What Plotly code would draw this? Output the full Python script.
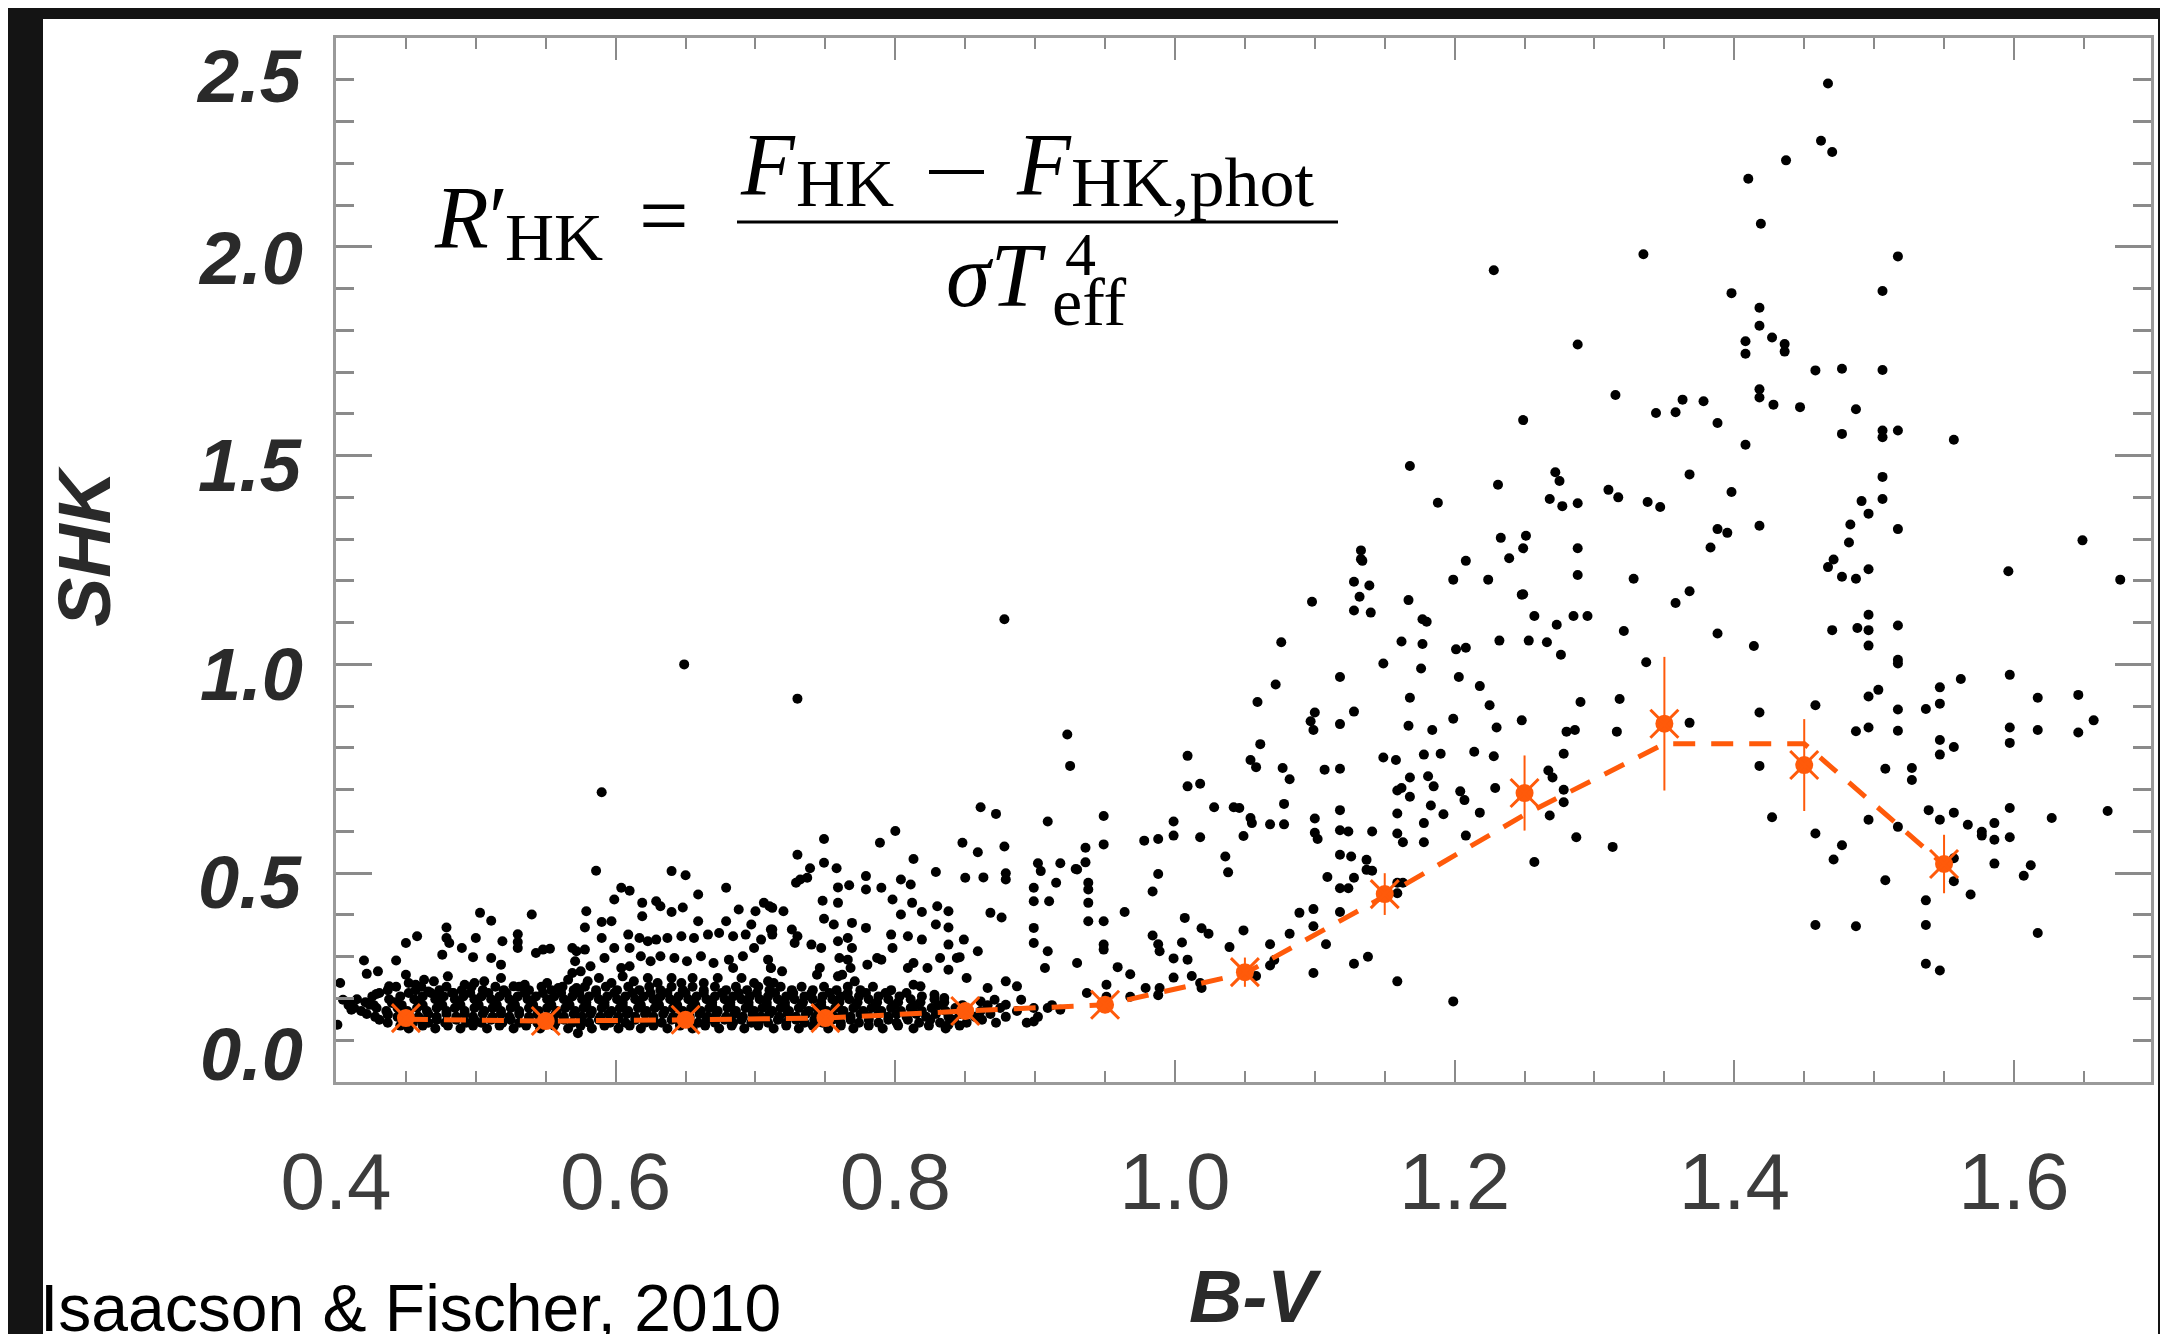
import plotly.graph_objects as go

W, H = 2168, 1334
L, R, T, B = 328, 25, 30, 260

# binned means (orange stars) with error bars, and the dashed trend through the bins
BIN_BV = [0.45, 0.55, 0.65, 0.75, 0.85, 0.95, 1.05, 1.15, 1.25, 1.35, 1.45, 1.55]
BIN_SHK = [0.153, 0.146, 0.149, 0.153, 0.170, 0.185, 0.263, 0.450, 0.692, 0.858, 0.759, 0.522]
BIN_ERR = [0.015, 0.015, 0.015, 0.015, 0.02, 0.02, 0.035, 0.05, 0.09, 0.16, 0.11, 0.07]
TREND_SHK = [0.150, 0.146, 0.149, 0.153, 0.170, 0.185, 0.260, 0.445, 0.640, 0.810, 0.810, 0.520]

# stars, read region by region (B-V, S_HK)
UPPER_RIGHT = [
    (1.467, 2.391), (1.462, 2.254), (1.470, 2.227), (1.437, 2.207), (1.410, 2.163), (1.419, 2.055),
    (1.335, 1.982), (1.517, 1.977), (1.398, 1.889), (1.506, 1.894), (1.418, 1.854), (1.418, 1.811),
    (1.408, 1.774), (1.408, 1.744), (1.427, 1.783), (1.436, 1.767), (1.436, 1.749), (1.288, 1.766),
    (1.458, 1.704), (1.477, 1.708), (1.506, 1.705), (1.315, 1.645), (1.363, 1.634), (1.378, 1.630),
    (1.344, 1.602), (1.358, 1.604), (1.388, 1.578), (1.418, 1.659), (1.418, 1.639), (1.428, 1.622),
    (1.447, 1.616), (1.487, 1.611), (1.249, 1.585), (1.408, 1.526), (1.477, 1.552), (1.506, 1.560),
    (1.506, 1.544), (1.517, 1.560), (1.557, 1.538), (1.272, 1.460), (1.275, 1.439), (1.368, 1.455),
    (1.310, 1.418), (1.317, 1.400), (1.268, 1.396), (1.277, 1.379), (1.288, 1.386), (1.338, 1.389),
    (1.347, 1.377), (1.398, 1.413), (1.506, 1.449), (1.506, 1.396), (1.491, 1.391), (1.496, 1.361),
    (1.251, 1.308), (1.249, 1.278), (1.239, 1.254), (1.288, 1.278), (1.288, 1.214), (1.328, 1.205),
    (1.383, 1.280), (1.388, 1.324), (1.395, 1.315), (1.418, 1.332), (1.483, 1.335), (1.482, 1.292),
    (1.517, 1.324), (1.471, 1.251), (1.467, 1.233), (1.477, 1.210), (1.487, 1.205), (1.496, 1.228),
    (1.649, 1.297), (1.596, 1.223), (1.676, 1.203), (1.249, 1.168), (1.358, 1.147), (1.368, 1.175),
    (1.228, 1.944), (1.168, 1.475), (1.188, 1.387), (1.231, 1.430), (1.133, 1.273), (1.133, 1.252),
    (1.233, 1.303),
]

MID_RIGHT = [
    (1.134, 1.248), (1.208, 1.248), (1.128, 1.198), (1.139, 1.189), (1.199, 1.203), (1.224, 1.203),
    (1.098, 1.150), (1.132, 1.162), (1.128, 1.129), (1.140, 1.124), (1.167, 1.154), (1.177, 1.108),
    (1.180, 1.102), (1.257, 1.116), (1.273, 1.095), (1.285, 1.116), (1.295, 1.116), (1.321, 1.080),
    (1.388, 1.074), (1.414, 1.044), (1.470, 1.082), (1.488, 1.087), (1.496, 1.119), (1.496, 1.082),
    (1.517, 1.093), (1.496, 1.045), (1.517, 1.011), (1.517, 1.002), (1.076, 1.053), (1.162, 1.055),
    (1.177, 1.049), (1.201, 1.036), (1.208, 1.040), (1.232, 1.057), (1.253, 1.057), (1.266, 1.053),
    (1.276, 1.023), (1.149, 1.002), (1.176, 0.990), (1.337, 1.005), (1.597, 0.975), (1.562, 0.965),
    (1.072, 0.952), (1.118, 0.970), (1.203, 0.970), (1.218, 0.948), (1.248, 1.167), (1.059, 0.910),
    (1.168, 0.920), (1.225, 0.902), (1.290, 0.910), (1.318, 0.917), (1.458, 0.902), (1.496, 0.923),
    (1.503, 0.939), (1.517, 0.892), (1.537, 0.893), (1.547, 0.945), (1.547, 0.906), (1.617, 0.920),
    (1.646, 0.927), (1.097, 0.864), (1.100, 0.885), (1.099, 0.843), (1.118, 0.857), (1.128, 0.887),
    (1.167, 0.853), (1.184, 0.843), (1.199, 0.870), (1.230, 0.849), (1.248, 0.866), (1.280, 0.839),
    (1.286, 0.843), (1.316, 0.839), (1.368, 0.860), (1.418, 0.885), (1.487, 0.840), (1.496, 0.849),
    (1.517, 0.841), (1.597, 0.849), (1.597, 0.812), (1.617, 0.843), (1.646, 0.837), (1.657, 0.866),
    (1.547, 0.819), (1.557, 0.802), (1.547, 0.784), (1.061, 0.809), (1.009, 0.781), (1.054, 0.771),
    (1.058, 0.754), (1.077, 0.752), (1.082, 0.725), (1.107, 0.748), (1.118, 0.750), (1.149, 0.777),
    (1.158, 0.771), (1.178, 0.784), (1.190, 0.786), (1.214, 0.791), (1.228, 0.780), (1.278, 0.786),
    (1.418, 0.757), (1.508, 0.750), (1.527, 0.752), (1.527, 0.723), (1.009, 0.708), (1.018, 0.714),
    (1.159, 0.698), (1.162, 0.704), (1.168, 0.729), (1.181, 0.732), (1.185, 0.708), (1.204, 0.696),
    (1.207, 0.675), (1.229, 0.704), (1.267, 0.746), (1.270, 0.729), (1.278, 0.700), (1.278, 0.670),
    (1.268, 0.638), (1.028, 0.658), (1.042, 0.658), (1.046, 0.656), (1.054, 0.632), (1.055, 0.620),
    (1.068, 0.617), (1.078, 0.617), (1.078, 0.666), (1.100, 0.631), (1.118, 0.651), (1.159, 0.643),
    (1.168, 0.683), (1.183, 0.662), (1.192, 0.641), (1.218, 0.645), (1.547, 0.628), (1.539, 0.651),
    (1.557, 0.645), (1.567, 0.616), (1.577, 0.599), (1.586, 0.620), (1.597, 0.656), (1.627, 0.632),
    (1.667, 0.649), (1.496, 0.628), (1.427, 0.634), (0.978, 0.578), (0.988, 0.582), (0.999, 0.624),
    (0.999, 0.590), (1.018, 0.586), (1.049, 0.589), (1.100, 0.597), (1.102, 0.582), (1.118, 0.603),
    (1.124, 0.600), (1.141, 0.600), (1.159, 0.595), (1.163, 0.574), (1.178, 0.620), (1.178, 0.574),
    (1.208, 0.590), (1.287, 0.586), (1.313, 0.563), (1.458, 0.595), (1.477, 0.567), (1.577, 0.590),
    (1.586, 0.580), (1.597, 0.586), (1.517, 0.611), (0.988, 0.498), (0.984, 0.456), (1.036, 0.540),
    (1.038, 0.502), (1.109, 0.491), (1.118, 0.544), (1.126, 0.540), (1.118, 0.464), (1.124, 0.464),
    (1.137, 0.532), (1.137, 0.508), (1.141, 0.506), (1.128, 0.489), (1.159, 0.477), (1.159, 0.452),
    (1.163, 0.477), (1.257, 0.527), (1.471, 0.533), (1.508, 0.483), (1.557, 0.536), (1.557, 0.481),
    (1.586, 0.523), (1.612, 0.519), (1.607, 0.494), (1.569, 0.449), (0.964, 0.407), (1.007, 0.393),
    (1.089, 0.405), (1.099, 0.414), (1.118, 0.407), (1.099, 0.373), (1.108, 0.330), (0.984, 0.351),
    (0.988, 0.330), (0.989, 0.313), (1.005, 0.334), (0.999, 0.296), (1.009, 0.293), (1.019, 0.368),
    (1.024, 0.355), (1.049, 0.363), (1.039, 0.323), (1.068, 0.330), (1.082, 0.355), (1.128, 0.283),
    (1.138, 0.300), (1.458, 0.376), (1.487, 0.373), (1.537, 0.435), (1.537, 0.376), (1.617, 0.357),
    (0.959, 0.275), (0.968, 0.258), (0.979, 0.225), (0.988, 0.208), (0.989, 0.225), (0.968, 0.204),
    (0.999, 0.250), (1.012, 0.254), (1.018, 0.237), (1.019, 0.225), (1.068, 0.279), (1.071, 0.292),
    (1.058, 0.254), (1.099, 0.261), (1.159, 0.241), (1.199, 0.193), (1.537, 0.283), (1.547, 0.267),
    (0.951, 0.233), (0.951, 0.204), (0.951, 0.178),
]

MID_LEFT = [
    (0.649, 1.000), (0.878, 1.108), (0.730, 0.918), (0.590, 0.694), (0.923, 0.832), (0.925, 0.757),
    (0.861, 0.658), (0.872, 0.642), (0.909, 0.624), (0.949, 0.637), (0.949, 0.569), (0.800, 0.601),
    (0.749, 0.582), (0.789, 0.573), (0.813, 0.534), (0.730, 0.544), (0.848, 0.573), (0.859, 0.550),
    (0.878, 0.564), (0.936, 0.561), (0.936, 0.526), (0.929, 0.510), (0.918, 0.524), (0.902, 0.524),
    (0.739, 0.512), (0.749, 0.525), (0.758, 0.512),
]

LOW_LEFT = [
    (0.586, 0.506), (0.640, 0.505), (0.650, 0.495), (0.604, 0.465), (0.610, 0.458), (0.599, 0.437),
    (0.659, 0.449), (0.679, 0.465), (0.503, 0.405), (0.511, 0.386), (0.540, 0.401), (0.579, 0.409),
    (0.578, 0.370), (0.590, 0.383), (0.597, 0.385), (0.619, 0.429), (0.629, 0.433), (0.632, 0.421),
    (0.640, 0.407), (0.648, 0.418), (0.619, 0.397), (0.659, 0.385), (0.679, 0.385), (0.688, 0.413),
    (0.700, 0.409), (0.706, 0.429), (0.710, 0.421), (0.711, 0.365), (0.697, 0.377), (0.458, 0.349),
    (0.450, 0.333), (0.479, 0.370), (0.479, 0.345), (0.481, 0.333), (0.500, 0.345), (0.519, 0.337),
    (0.530, 0.354), (0.530, 0.335), (0.530, 0.321), (0.490, 0.321), (0.476, 0.305), (0.498, 0.299),
    (0.511, 0.297), (0.443, 0.291), (0.420, 0.291), (0.422, 0.259), (0.430, 0.265), (0.543, 0.309),
    (0.548, 0.317), (0.553, 0.319), (0.569, 0.321), (0.572, 0.313), (0.578, 0.317), (0.590, 0.345),
    (0.571, 0.289), (0.582, 0.277), (0.592, 0.297), (0.599, 0.321), (0.609, 0.353), (0.617, 0.345),
    (0.610, 0.321), (0.623, 0.337), (0.629, 0.341), (0.637, 0.345), (0.647, 0.349), (0.656, 0.345),
    (0.666, 0.353), (0.674, 0.357), (0.684, 0.349), (0.693, 0.353), (0.704, 0.341), (0.712, 0.353),
    (0.618, 0.301), (0.625, 0.289), (0.632, 0.301), (0.642, 0.297), (0.651, 0.289), (0.661, 0.301),
    (0.670, 0.285), (0.681, 0.293), (0.691, 0.301), (0.699, 0.321), (0.709, 0.293), (0.604, 0.273),
    (0.610, 0.277), (0.575, 0.265), (0.569, 0.261), (0.403, 0.237), (0.405, 0.197), (0.410, 0.189),
    (0.411, 0.173), (0.401, 0.137), (0.424, 0.185), (0.429, 0.211), (0.438, 0.229), (0.440, 0.189),
    (0.437, 0.161), (0.450, 0.257), (0.452, 0.237), (0.457, 0.233), (0.463, 0.245), (0.470, 0.241),
    (0.480, 0.253), (0.466, 0.217), (0.473, 0.209), (0.484, 0.213), (0.492, 0.233), (0.499, 0.237),
    (0.506, 0.241), (0.518, 0.281), (0.518, 0.249), (0.527, 0.229), (0.535, 0.233), (0.551, 0.237),
    (0.559, 0.225), (0.566, 0.245), (0.572, 0.225), (0.580, 0.241), (0.588, 0.249), (0.597, 0.237),
    (0.605, 0.253), (0.613, 0.241), (0.623, 0.249), (0.630, 0.237), (0.640, 0.249), (0.647, 0.237),
    (0.655, 0.249), (0.663, 0.237), (0.673, 0.249), (0.684, 0.273), (0.690, 0.249), (0.699, 0.237),
    (0.711, 0.273), (0.709, 0.241), (0.573, 0.117),
]

LOW_MID = [
    (0.729, 0.477), (0.732, 0.485), (0.737, 0.489), (0.759, 0.466), (0.767, 0.471), (0.779, 0.493),
    (0.779, 0.461), (0.790, 0.465), (0.804, 0.485), (0.811, 0.473), (0.829, 0.503), (0.850, 0.489),
    (0.863, 0.490), (0.879, 0.500), (0.879, 0.485), (0.904, 0.505), (0.915, 0.477), (0.930, 0.509),
    (0.938, 0.477), (0.938, 0.461), (0.938, 0.429), (0.938, 0.385), (0.949, 0.385), (0.949, 0.329),
    (0.949, 0.317), (0.930, 0.285), (0.909, 0.313), (0.907, 0.273), (0.899, 0.465), (0.899, 0.433),
    (0.899, 0.369), (0.899, 0.333), (0.910, 0.433), (0.868, 0.405), (0.876, 0.394), (0.849, 0.341),
    (0.859, 0.313), (0.846, 0.299), (0.838, 0.329), (0.832, 0.297), (0.838, 0.269), (0.844, 0.297),
    (0.830, 0.421), (0.838, 0.409), (0.829, 0.377), (0.838, 0.370), (0.819, 0.407), (0.819, 0.341),
    (0.809, 0.349), (0.797, 0.353), (0.798, 0.321), (0.787, 0.297), (0.790, 0.293), (0.812, 0.429),
    (0.804, 0.401), (0.798, 0.437), (0.779, 0.369), (0.769, 0.381), (0.756, 0.377), (0.749, 0.391),
    (0.759, 0.429), (0.748, 0.434), (0.720, 0.409), (0.712, 0.417), (0.712, 0.365), (0.726, 0.365),
    (0.730, 0.349), (0.740, 0.329), (0.747, 0.321), (0.728, 0.333), (0.759, 0.337), (0.766, 0.345),
    (0.769, 0.321), (0.760, 0.297), (0.766, 0.293), (0.768, 0.273), (0.780, 0.281), (0.746, 0.273),
    (0.744, 0.257), (0.759, 0.253), (0.762, 0.257), (0.771, 0.241), (0.711, 0.273), (0.719, 0.265),
    (0.713, 0.237), (0.809, 0.273), (0.813, 0.285), (0.823, 0.273), (0.851, 0.249), (0.866, 0.225),
    (0.879, 0.241), (0.887, 0.229), (0.813, 0.233), (0.818, 0.229), (0.828, 0.209), (0.835, 0.201),
    (0.861, 0.193), (0.871, 0.197), (0.879, 0.185), (0.890, 0.197), (0.899, 0.177), (0.899, 0.145),
    (0.909, 0.177), (0.918, 0.173), (0.838, 0.137), (0.937, 0.213),
]

# the saturated band near the bottom, read as rows (S_HK, list of B-V)
BAND_ROWS = [
    (0.128, [0.452, 0.471, 0.489, 0.508, 0.527, 0.546, 0.566, 0.583, 0.602, 0.618, 0.637, 0.655,
             0.674, 0.692, 0.713, 0.731, 0.752, 0.770, 0.791, 0.813, 0.836]),
    (0.135, [0.446, 0.462, 0.480, 0.498, 0.517, 0.536, 0.556, 0.575, 0.592, 0.610, 0.627, 0.646,
             0.664, 0.683, 0.702, 0.722, 0.741, 0.761, 0.781, 0.802, 0.824, 0.846]),
    (0.142, [0.437, 0.455, 0.466, 0.478, 0.493, 0.504, 0.519, 0.531, 0.544, 0.557, 0.569, 0.581,
             0.596, 0.607, 0.621, 0.633, 0.646, 0.659, 0.671, 0.684, 0.697, 0.709, 0.722, 0.735,
             0.748, 0.761, 0.774, 0.788, 0.801, 0.817, 0.832, 0.851, 0.872, 0.894]),
    (0.149, [0.431, 0.449, 0.461, 0.472, 0.486, 0.499, 0.511, 0.525, 0.538, 0.550, 0.563, 0.575,
             0.588, 0.601, 0.614, 0.627, 0.640, 0.652, 0.665, 0.678, 0.690, 0.703, 0.716, 0.729,
             0.742, 0.755, 0.768, 0.781, 0.795, 0.809, 0.825, 0.842, 0.862]),
    (0.156, [0.428, 0.444, 0.459, 0.472, 0.486, 0.498, 0.512, 0.524, 0.538, 0.551, 0.563, 0.576,
             0.589, 0.602, 0.614, 0.627, 0.641, 0.653, 0.666, 0.679, 0.691, 0.704, 0.717, 0.729,
             0.743, 0.756, 0.768, 0.781, 0.795, 0.808, 0.822, 0.838, 0.857, 0.879, 0.902]),
    (0.163, [0.422, 0.437, 0.452, 0.466, 0.479, 0.492, 0.505, 0.518, 0.531, 0.544, 0.557, 0.570,
             0.582, 0.595, 0.608, 0.621, 0.634, 0.647, 0.660, 0.672, 0.685, 0.698, 0.710, 0.723,
             0.736, 0.749, 0.762, 0.775, 0.788, 0.801, 0.815, 0.829, 0.846, 0.868]),
    (0.170, [0.418, 0.436, 0.451, 0.465, 0.479, 0.492, 0.506, 0.518, 0.531, 0.545, 0.558, 0.571,
             0.583, 0.597, 0.609, 0.622, 0.635, 0.648, 0.661, 0.673, 0.686, 0.699, 0.712, 0.724,
             0.738, 0.751, 0.763, 0.777, 0.790, 0.804, 0.819, 0.836, 0.861, 0.887]),
    (0.177, [0.413, 0.429, 0.444, 0.458, 0.472, 0.485, 0.499, 0.512, 0.525, 0.538, 0.551, 0.564,
             0.577, 0.590, 0.603, 0.616, 0.628, 0.641, 0.654, 0.667, 0.680, 0.693, 0.705, 0.718,
             0.731, 0.744, 0.757, 0.770, 0.783, 0.797, 0.811, 0.826, 0.843, 0.875]),
    (0.184, [0.409, 0.427, 0.447, 0.462, 0.476, 0.489, 0.502, 0.515, 0.528, 0.541, 0.554, 0.567,
             0.579, 0.592, 0.605, 0.618, 0.631, 0.644, 0.657, 0.669, 0.682, 0.695, 0.708, 0.721,
             0.733, 0.747, 0.759, 0.772, 0.786, 0.799, 0.814, 0.831, 0.848, 0.866, 0.912]),
    (0.191, [0.421, 0.442, 0.459, 0.474, 0.488, 0.501, 0.514, 0.527, 0.540, 0.553, 0.566, 0.579,
             0.592, 0.605, 0.617, 0.630, 0.643, 0.656, 0.669, 0.682, 0.695, 0.708, 0.721, 0.734,
             0.747, 0.760, 0.773, 0.787, 0.802, 0.818, 0.835]),
    (0.198, [0.415, 0.438, 0.456, 0.471, 0.485, 0.499, 0.511, 0.524, 0.537, 0.551, 0.563, 0.576,
             0.588, 0.601, 0.614, 0.627, 0.639, 0.652, 0.665, 0.678, 0.690, 0.703, 0.716, 0.728,
             0.741, 0.755, 0.767, 0.781, 0.795, 0.811, 0.828]),
    (0.205, [0.426, 0.446, 0.462, 0.477, 0.491, 0.504, 0.517, 0.530, 0.543, 0.556, 0.569, 0.581,
             0.594, 0.607, 0.620, 0.632, 0.645, 0.658, 0.671, 0.684, 0.696, 0.709, 0.722, 0.735,
             0.748, 0.761, 0.774, 0.788, 0.803, 0.819]),
    (0.213, [0.431, 0.452, 0.468, 0.483, 0.496, 0.509, 0.522, 0.535, 0.548, 0.561, 0.574, 0.586,
             0.599, 0.612, 0.625, 0.637, 0.650, 0.663, 0.676, 0.688, 0.701, 0.714, 0.727, 0.740,
             0.753, 0.766, 0.779, 0.793, 0.808]),
    (0.220, [0.437, 0.457, 0.474, 0.490, 0.505, 0.520, 0.538, 0.554, 0.570, 0.586, 0.601, 0.617,
             0.632, 0.648, 0.663, 0.679, 0.694, 0.710, 0.726, 0.741, 0.758, 0.775, 0.797]),
    (0.228, [0.443, 0.461, 0.479, 0.497, 0.514, 0.531, 0.547, 0.562, 0.578, 0.593, 0.609, 0.624,
             0.640, 0.655, 0.671, 0.686, 0.702, 0.718, 0.733, 0.749, 0.766, 0.784]),
]

Y_LABELS = ["0.0", "0.5", "1.0", "1.5", "2.0", "2.5"]
Y_LABEL_AT = [0.065, 0.477, 0.975, 1.477, 1.973, 2.409]

ORANGE = "#ff5a0a"
AXIS = "#9a9a9a"
TICK = "#8a8a8a"
SANS = "Liberation Sans, Arial"
SERIF = "Liberation Serif, DejaVu Serif, serif"


def px_x(px):
    return (px - L) / (W - L - R)


def px_y(py):
    return (H - B - py) / (H - T - B)


star_x, star_y = [], []
for group in (UPPER_RIGHT, MID_RIGHT, MID_LEFT, LOW_LEFT, LOW_MID):
    for bv, s in group:
        star_x.append(bv)
        star_y.append(s)
for s, row in BAND_ROWS:
    for bv in row:
        star_x.append(bv)
        star_y.append(s)

fig = go.Figure()
fig.add_trace(go.Scatter(
    x=star_x, y=star_y, mode="markers",
    marker=dict(size=10, color="black", line=dict(width=0)),
    hoverinfo="skip",
))
fig.add_trace(go.Scatter(
    x=BIN_BV, y=TREND_SHK, mode="lines",
    line=dict(color=ORANGE, width=5, dash="22px,16px"),
    hoverinfo="skip",
))
fig.add_trace(go.Scatter(
    x=BIN_BV, y=BIN_SHK, mode="markers",
    marker=dict(size=18, color=ORANGE, line=dict(width=0)),
    error_y=dict(type="data", array=BIN_ERR, color=ORANGE, thickness=2, width=0),
))
fig.add_trace(go.Scatter(
    x=BIN_BV, y=BIN_SHK, mode="markers",
    marker=dict(size=28, symbol="x-thin-open", color=ORANGE, line=dict(width=3, color=ORANGE)),
))

fig.update_xaxes(
    range=[0.4, 1.698], showline=True, linecolor=AXIS, linewidth=3, mirror="ticks",
    ticks="inside", ticklen=22, tickwidth=2, tickcolor=TICK,
    tick0=0.4, dtick=0.2, tickformat=".1f",
    minor=dict(ticks="inside", ticklen=11, tickwidth=2, tickcolor=TICK, tick0=0.4, dtick=0.05),
    showgrid=False, zeroline=False,
    tickfont=dict(family=SANS, size=80, color="#3c3c3c"),
    ticklabelstandoff=28,
)
fig.update_yaxes(
    range=[0, 2.5], showline=True, linecolor=AXIS, linewidth=3, mirror="ticks",
    ticks="inside", ticklen=36, tickwidth=3, tickcolor=TICK,
    tick0=0, dtick=0.5, showticklabels=False,
    minor=dict(ticks="inside", ticklen=18, tickwidth=3, tickcolor=TICK, tick0=0, dtick=0.1),
    showgrid=False, zeroline=False,
)

ann = []
for lab, yv in zip(Y_LABELS, Y_LABEL_AT):
    ann.append(dict(x=px_x(297), xref="paper", y=yv, yref="y", text="<b><i>%s</i></b>" % lab,
                    showarrow=False, xanchor="right", yanchor="middle",
                    font=dict(family=SANS, size=74, color="#2a2a2a")))
ann.append(dict(x=px_x(76), xref="paper", y=px_y(539), yref="paper", text="<b><i>SHK</i></b>",
                textangle=-90, showarrow=False, xanchor="center", yanchor="middle",
                font=dict(family=SANS, size=74, color="#2a2a2a")))
ann.append(dict(x=px_x(1247), xref="paper", y=px_y(1288), yref="paper", text="<b><i>B-V</i></b>",
                showarrow=False, xanchor="center", yanchor="middle",
                font=dict(family=SANS, size=74, color="#2a2a2a")))
ann.append(dict(x=px_x(30), xref="paper", y=px_y(1300), yref="paper", text="Isaacson &amp; Fischer, 2010",
                showarrow=False, xanchor="left", yanchor="middle",
                font=dict(family=SANS, size=66, color="black")))


def formula_piece(text, px, py, size, anchor="left"):
    ann.append(dict(x=px_x(px), xref="paper", y=px_y(py), yref="paper", text=text,
                    showarrow=False, xanchor=anchor, yanchor="middle",
                    font=dict(family=SERIF, size=size, color="black")))


# R'_HK = (F_HK - F_HK,phot) / (sigma T_eff^4), set piece by piece
formula_piece("<i>R</i>′", 424, 209, 88)
formula_piece("HK", 495, 229, 68)
formula_piece("=", 656, 207, 88, "center")
formula_piece("<i>F</i>", 730, 156, 88)
formula_piece("HK", 786, 175, 68)
formula_piece("<i>F</i>", 1006, 156, 88)
formula_piece("HK,phot", 1061, 175, 70)
formula_piece("<i>σT</i>", 936, 267, 90)
formula_piece("4", 1072, 246, 62, "center")
formula_piece("eff", 1042, 294, 68)

shapes = [
    dict(type="rect", xref="paper", yref="paper", x0=px_x(35), x1=px_x(2150), y0=px_y(1400), y1=px_y(11),
         fillcolor="white", line=dict(width=0), layer="below"),
    # fraction bar and the minus sign of the numerator
    dict(type="line", xref="paper", yref="paper", x0=px_x(729), x1=px_x(1330), y0=px_y(214), y1=px_y(214),
         line=dict(color="black", width=3)),
    dict(type="line", xref="paper", yref="paper", x0=px_x(921), x1=px_x(976), y0=px_y(164), y1=px_y(164),
         line=dict(color="black", width=4)),
]

fig.update_layout(
    width=W, height=H, margin=dict(l=L, r=R, t=T, b=B),
    paper_bgcolor="#141414", plot_bgcolor="white",
    showlegend=False, annotations=ann, shapes=shapes,
)
fig.write_html("out.html")
